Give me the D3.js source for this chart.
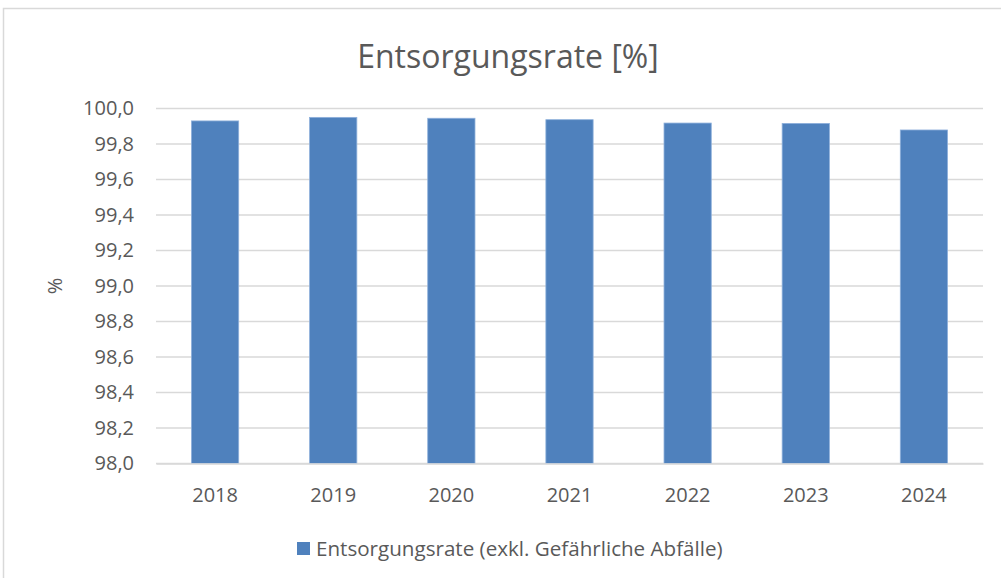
<!DOCTYPE html>
<html>
<head>
<meta charset="utf-8">
<script src="https://d3js.org/d3.v7.min.js"></script>
<style>
    body { margin: 0; background: #fff; }
    svg { font-family: "Open Sans", sans-serif; }
</style>
</head>
<body>
<script>
// data
var years = ["2018", "2019", "2020", "2021", "2022", "2023", "2024"];
var rates = [99.93, 99.95, 99.945, 99.937, 99.918, 99.916, 99.879];
var yTicks = [98.0, 98.2, 98.4, 98.6, 98.8, 99.0, 99.2, 99.4, 99.6, 99.8, 100.0];
var seriesName = "Entsorgungsrate (exkl. Gefährliche Abfälle)";
var chartTitle = "Entsorgungsrate [%]";

var W = 1001, H = 578;
var margin = {top: 108.5, right: 18, bottom: 114.5, left: 156};
var width = W - margin.left - margin.right,
    height = H - margin.top - margin.bottom;

var svg = d3.select("body").append("svg")
    .attr("width", W)
    .attr("height", H);

// chart area border (only left/top visible in the reference)
svg.append("rect")
    .attr("x", 3.5).attr("y", 8.5)
    .attr("width", W + 20).attr("height", H + 20)
    .attr("fill", "none")
    .attr("stroke", "#d9d9d9")
    .attr("stroke-width", 1.5);

var g = svg.append("g")
    .attr("transform", "translate(" + margin.left + "," + margin.top + ")");

var x = d3.scaleBand().domain(years).range([0, width]).paddingInner(0.6).paddingOuter(0.3);
var y = d3.scaleLinear().domain([98, 100]).range([height, 0]);

// gridlines
g.selectAll(".grid")
    .data(yTicks)
    .enter().append("line")
    .attr("x1", 0).attr("x2", width)
    .attr("y1", function(d) { return y(d); })
    .attr("y2", function(d) { return y(d); })
    .attr("stroke", "#d9d9d9")
    .attr("stroke-width", 1.5);

// bars
g.selectAll(".bar")
    .data(rates)
    .enter().append("rect")
    .attr("class", "bar")
    .attr("x", function(d, i) { return x(years[i]); })
    .attr("width", x.bandwidth())
    .attr("y", function(d) { return y(d); })
    .attr("height", function(d) { return height - y(d); })
    .attr("fill", "#4f81bd")
    .attr("stroke", "#8eb0db")
    .attr("stroke-width", 0.8);

// y axis
var yAxis = g.append("g")
    .call(d3.axisLeft(y).tickValues(yTicks).tickSize(0).tickPadding(22)
        .tickFormat(function(d) { return d3.format(".1f")(d).replace(".", ","); }));
yAxis.attr("font-family", "'Open Sans', sans-serif");
yAxis.select(".domain").remove();
yAxis.selectAll("text").attr("fill", "#595959").style("font-size", "20px");

// x axis
var xAxis = g.append("g")
    .attr("transform", "translate(0," + height + ")")
    .call(d3.axisBottom(x).tickSize(0).tickPadding(24));
xAxis.attr("font-family", "'Open Sans', sans-serif");
xAxis.select(".domain").attr("stroke", "#d9d9d9").attr("stroke-width", 1.5);
xAxis.selectAll("text").attr("fill", "#595959").style("font-size", "20px");

// y axis label
svg.append("text")
    .attr("transform", "translate(62," + (margin.top + height / 2) + ") rotate(-90)")
    .attr("text-anchor", "middle")
    .attr("fill", "#595959")
    .style("font-size", "20px")
    .text("%");

// title
svg.append("text")
    .attr("x", 508)
    .attr("y", 68)
    .attr("text-anchor", "middle")
    .attr("fill", "#595959")
    .style("font-size", "32px")
    .text(chartTitle);

// legend
var legend = svg.append("g").attr("transform", "translate(297,542)");
legend.append("rect")
    .attr("width", 13).attr("height", 13)
    .attr("fill", "#4f81bd");
legend.append("text")
    .attr("x", 19).attr("y", 14)
    .attr("fill", "#595959")
    .style("font-size", "20.6px")
    .text(seriesName);
</script>
</body>
</html>
